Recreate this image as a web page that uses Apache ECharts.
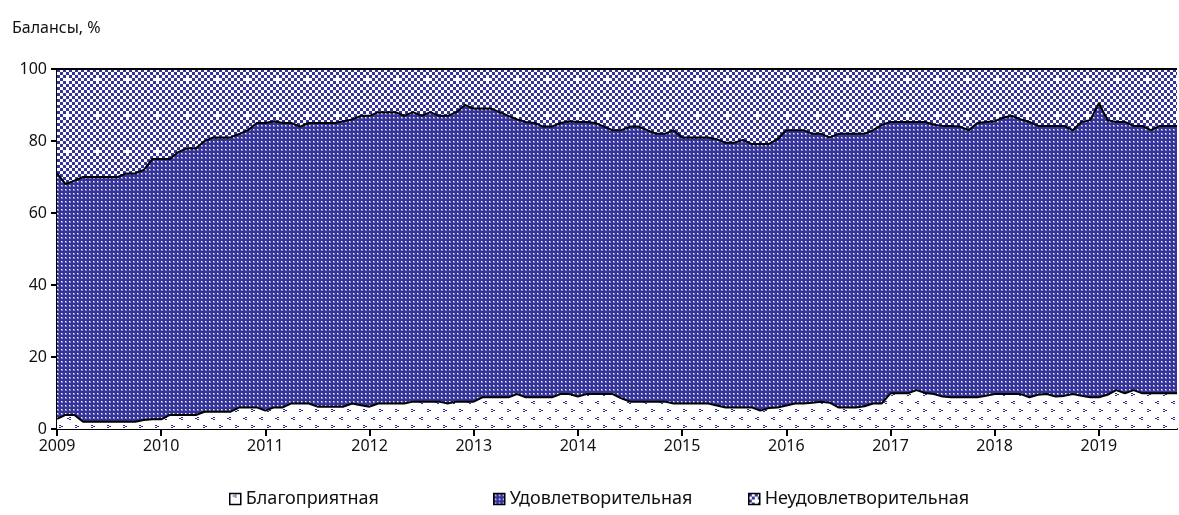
<!DOCTYPE html>
<html>
<head>
<meta charset="utf-8">
<script src="https://cdn.jsdelivr.net/npm/echarts@6/dist/echarts.min.js"></script>
<style>html,body{margin:0;padding:0;background:#fff;}#chart{width:1179px;height:515px;}</style>
</head>
<body>
<div id="chart"></div>
<script>
// Series names
const seriesNames = ['Благоприятная', 'Удовлетворительная', 'Неудовлетворительная'];
const yearLabels = ['2009','2010','2011','2012','2013','2014','2015','2016','2017','2018','2019'];
const yTicks = [0, 20, 40, 60, 80, 100];

// Monthly shares, Jan 2009 – Oct 2019 (130 months)
const favourable = [
 2.8,3.9,3.9,2,2,2,2,2,2,2,2.5,2.7,
 2.7,3.9,3.9,3.9,3.9,4.8,4.8,4.8,4.8,6,6,6,
 5.1,6,6,7.1,7.1,7.1,6.2,6.2,6.2,6.2,7.1,6.6,
 6.2,7.1,7.1,7.1,7.1,7.6,7.6,7.6,7.6,7.1,7.6,7.6,
 7.6,8.8,8.8,8.8,8.8,9.7,8.8,8.8,8.8,8.8,9.7,9.7,
 9,9.7,9.7,9.7,9.7,8.5,7.6,7.6,7.6,7.6,7.6,7.1,
 7.1,7.1,7.1,7.1,6.5,6,6,6,6,5.1,5.8,6,
 6.5,7.1,7.1,7.3,7.6,7.3,6,6,6,6.3,7.1,7.1,
 9.9,9.9,9.9,10.8,10,9.7,9,8.8,8.8,8.8,8.8,9.2,
 9.7,9.7,9.7,9.7,8.8,9.5,9.7,9,9.2,9.7,9.2,8.8,
 8.8,9.5,10.8,9.9,10.8,9.9,9.9,9.9,9.9,9.9
];
const satisfactory = [
 68.2,64.1,65.1,68,68,68,68,68,69,69,69.5,72.3,
 72.3,71.1,73.1,74.1,74.1,75.2,76.2,76.2,76.2,76,77,79,
 79.9,79.5,79,77.9,76.9,77.9,78.8,78.8,78.8,79.3,78.9,80.4,
 80.8,80.9,80.9,80.9,79.9,80.4,79.4,80.4,79.4,79.9,80.4,82.4,
 81.4,80.2,80.2,79.2,78.2,76.3,76.5,76.2,75.2,75.2,75.3,75.8,
 76.3,75.6,75.3,74.3,73.3,74.5,76.4,76.4,75.4,74.4,74.4,75.9,
 73.9,73.9,73.9,73.9,74,73.5,73.5,74.3,73.2,74.1,73.4,74.5,
 76.5,75.9,75.9,74.7,74.4,73.7,76,76,76,75.7,75.9,77.4,
 75.4,75.4,75.4,74.5,75.3,74.8,75.2,75.4,75.2,74.2,76.2,76.1,
 75.8,76.8,77.3,76.3,76.5,74.7,74.5,75.2,75,73.3,76.1,77,
 81.7,76.3,74.5,75.4,73.4,74.3,73.1,74.3,74.3,74.3
];
const unsatisfactory = [
 29,32,31,30,30,30,30,30,29,29,28,25,
 25,25,23,22,22,20,19,19,19,18,17,15,
 15,14.5,15,15,16,15,15,15,15,14.5,14,13,
 13,12,12,12,13,12,13,12,13,13,12,10,
 11,11,11,12,13,14,14.7,15,16,16,15,14.5,
 14.7,14.7,15,16,17,17,16,16,17,18,18,17,
 19,19,19,19,19.5,20.5,20.5,19.7,20.8,20.8,20.8,19.5,
 17,17,17,18,18,19,18,18,18,18,17,15.5,
 14.7,14.7,14.7,14.7,14.7,15.5,15.8,15.8,16,17,15,14.7,
 14.5,13.5,13,14,14.7,15.8,15.8,15.8,15.8,17,14.7,14.2,
 9.5,14.2,14.7,14.7,15.8,15.8,17,15.8,15.8,15.8
];

const months = favourable.map((_, i) => {
  const y = 2009 + Math.floor(i / 12);
  const m = (i % 12) + 1;
  return y + '-' + (m < 10 ? '0' + m : m);
});

const BLUE = '#333399';
function makeTile(w, h, draw) {
  const c = document.createElement('canvas');
  c.width = w; c.height = h;
  const g = c.getContext('2d');
  draw(g);
  return { image: c, repeat: 'repeat' };
}
// white with small chevrons
const patFav = makeTile(16, 16, g => {
  g.fillStyle = '#ffffff'; g.fillRect(0, 0, 16, 16);
  g.fillStyle = BLUE;
  // "<"
  g.fillRect(5, 1, 2, 1); g.fillRect(3, 2, 2, 1); g.fillRect(5, 3, 2, 1);
  // ">"
  g.fillRect(11, 9, 2, 1); g.fillRect(13, 10, 2, 1); g.fillRect(11, 11, 2, 1);
});
// dark blue with white dots
const patSat = makeTile(4, 4, g => {
  g.fillStyle = BLUE; g.fillRect(0, 0, 4, 4);
  g.fillStyle = 'rgba(255,255,255,0.4)'; g.fillRect(1, 1, 2, 2);
  g.fillStyle = '#ffffff'; g.fillRect(1, 1, 1, 1);
});
// checkerboard with white crosses
const patUns = makeTile(30, 36, g => {
  g.fillStyle = '#ffffff'; g.fillRect(0, 0, 30, 36);
  g.fillStyle = BLUE;
  for (let cx = 0; cx < 10; cx++) {
    for (let cy = 0; cy < 12; cy++) {
      if ((cx + cy) % 2 === 0) {
        if ((cx === 2 && cy === 2) || (cx === 7 && cy === 8)) continue;
        g.fillRect(cx * 3, cy * 3, 3, 3);
      }
    }
  }
});
const patterns = [patFav, patSat, patUns];
const dataSets = [favourable, satisfactory, unsatisfactory];
const legendLeft = [224, 488, 743];

const FONT = 'Noto Sans';
const chart = echarts.init(document.getElementById('chart'), null, { renderer: 'canvas' });
chart.setOption({
  animation: false,
  backgroundColor: '#ffffff',
  title: {
    text: 'Балансы, %', left: 7, top: 15,
    textStyle: { fontFamily: FONT, fontSize: 16, fontWeight: 'normal', color: '#111' }
  },
  legend: seriesNames.map((name, k) => ({
    top: 485, left: legendLeft[k], itemGap: 10, itemWidth: 11, itemHeight: 11, icon: 'rect',
    data: [name],
    textStyle: { fontFamily: FONT, fontSize: 18, color: '#111' },
    itemStyle: { borderColor: '#000', borderWidth: 1.5 }
  })),
  grid: { left: 57, right: 2, top: 69, bottom: 86 },
  xAxis: {
    type: 'category', data: months, boundaryGap: false,
    axisLine: { lineStyle: { color: '#000', width: 2 } },
    axisTick: { interval: (i) => i % 12 === 0, length: 7, lineStyle: { color: '#000', width: 2 } },
    axisLabel: {
      interval: (i) => i % 12 === 0, margin: 9,
      formatter: (v) => yearLabels[yearLabels.indexOf(v.slice(0, 4))],
      fontFamily: FONT, fontSize: 16, color: '#111'
    },
    splitLine: { show: false }
  },
  yAxis: {
    type: 'value', min: yTicks[0], max: yTicks[yTicks.length - 1], interval: 20,
    axisLine: { show: true, lineStyle: { color: '#000', width: 2 } },
    axisTick: { show: true, length: 6, lineStyle: { color: '#000', width: 2 } },
    axisLabel: { fontFamily: FONT, fontSize: 16, color: '#111', margin: 10 },
    splitLine: { show: false }
  },
  series: seriesNames.map((name, k) => ({
    name, type: 'line', stack: 'total', data: dataSets[k],
    symbol: 'none', smooth: false,
    lineStyle: { color: '#000', width: 2 },
    itemStyle: { color: patterns[k], borderColor: '#000', borderWidth: 1.5 },
    areaStyle: { color: patterns[k], opacity: 1 },
    z: 3 - k
  }))
});
</script>
</body>
</html>
